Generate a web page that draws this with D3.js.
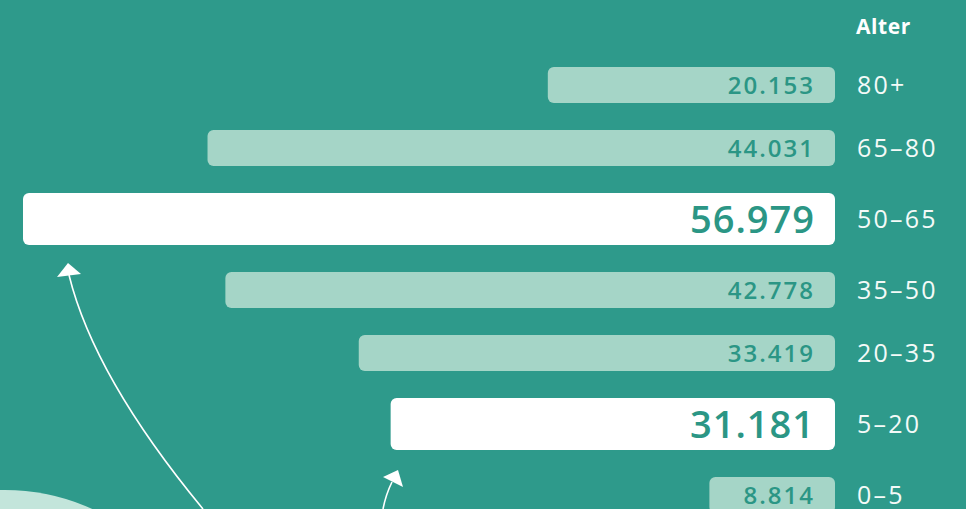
<!DOCTYPE html>
<html>
<head>
<meta charset="utf-8">
<script src="https://cdn.jsdelivr.net/npm/d3@7"></script>
<style>
  html, body { margin: 0; padding: 0; background: #2e9a8b; overflow: hidden; }
  svg { display: block; }
  .age-label { font-family: "Open Sans", sans-serif; font-size: 25px; fill: #f4faf8; letter-spacing: 2.2px; }
  .value-label { font-family: "Open Sans", sans-serif; font-weight: 600; fill: #2b9685; }
</style>
</head>
<body>
<div id="chart"></div>
<script>
// Altersgruppen (von oben nach unten)
const ageGroups = ['80+', '65–80', '50–65', '35–50', '20–35', '5–20', '0–5'];
const counts = [20.153, 44.031, 56.979, 42.778, 33.419, 31.181, 8.814];
const highlighted = ['50–65', '5–20'];

const width = 966;
const height = 509;
const barRight = 835;
const barLeftMax = 23;
const barHeight = 36;
const barHeightHi = 52;
const gap = 27;
const firstBarY = 67;

const colors = {
  bg: '#2e9a8b',
  bar: '#a5d5c7',
  barHi: '#ffffff',
  text: '#2b9685',
  circle: '#c3e5db'
};

const svg = d3.select('#chart')
  .append('svg')
  .attr('width', width)
  .attr('height', height);

svg.append('rect')
  .attr('width', width)
  .attr('height', height)
  .attr('fill', colors.bg);

// Deko-Kreis unten links
svg.append('circle')
  .attr('cx', 5)
  .attr('cy', 700)
  .attr('r', 210)
  .attr('fill', colors.circle);

// Länge der Balken
const x = d3.scaleLinear()
  .domain([0, d3.max(counts)])
  .range([0, barRight - barLeftMax]);

// Balken untereinander stapeln, hervorgehobene sind höher
const rows = [];
let y = firstBarY;
ageGroups.forEach((g, i) => {
  const hi = highlighted.includes(g);
  const h = hi ? barHeightHi : barHeight;
  rows.push({ group: g, value: counts[i], hi, y, h });
  y += h + gap;
});

const fmt = v => v.toFixed(3);

const row = svg.append('g')
  .selectAll('g')
  .data(rows)
  .enter()
  .append('g')
  .attr('transform', d => `translate(0, ${d.y})`);

row.append('rect')
  .attr('x', d => barRight - x(d.value))
  .attr('y', 0)
  .attr('width', d => x(d.value))
  .attr('height', d => d.h)
  .attr('rx', 6)
  .attr('fill', d => d.hi ? colors.barHi : colors.bar);

row.append('text')
  .attr('class', 'value-label')
  .attr('x', barRight - 20)
  .attr('y', d => d.h / 2)
  .attr('dy', '0.36em')
  .attr('text-anchor', 'end')
  .style('font-size', d => d.hi ? '38px' : '24px')
  .style('letter-spacing', d => d.hi ? '1px' : '2px')
  .text(d => fmt(d.value));

row.append('text')
  .attr('class', 'age-label')
  .attr('x', 857)
  .attr('y', d => d.h / 2)
  .attr('dy', '0.36em')
  .text(d => d.group);

svg.append('text')
  .attr('x', 856)
  .attr('y', 34)
  .attr('fill', '#ffffff')
  .style('font-family', '"Open Sans", sans-serif')
  .style('font-weight', 700)
  .style('font-size', '21px')
  .style('letter-spacing', '0.6px')
  .text('Alter');

// Pfeile zu den hervorgehobenen Balken
const rowBy = g => rows.find(r => r.group === g);
const r1 = rowBy('50–65');
const r2 = rowBy('5–20');
const b1 = r1.y + r1.h;
const b2 = r2.y + r2.h;

const arrows = svg.append('g').attr('fill', '#ffffff');

arrows.append('path')
  .attr('d', `M203,${height} Q94,${b1 + 132} 69,${b1 + 30}`)
  .attr('fill', 'none')
  .attr('stroke', '#ffffff')
  .attr('stroke-width', 1.6);

arrows.append('path')
  .attr('d', `M68,${b1 + 18} L57,${b1 + 32} L81,${b1 + 29} Z`);

arrows.append('path')
  .attr('d', `M383,${height} Q386,${b2 + 44} 392,${b2 + 32}`)
  .attr('fill', 'none')
  .attr('stroke', '#ffffff')
  .attr('stroke-width', 1.6);

arrows.append('path')
  .attr('d', `M398,${b2 + 20} L383,${b2 + 27} L403,${b2 + 37} Z`);
</script>
</body>
</html>
